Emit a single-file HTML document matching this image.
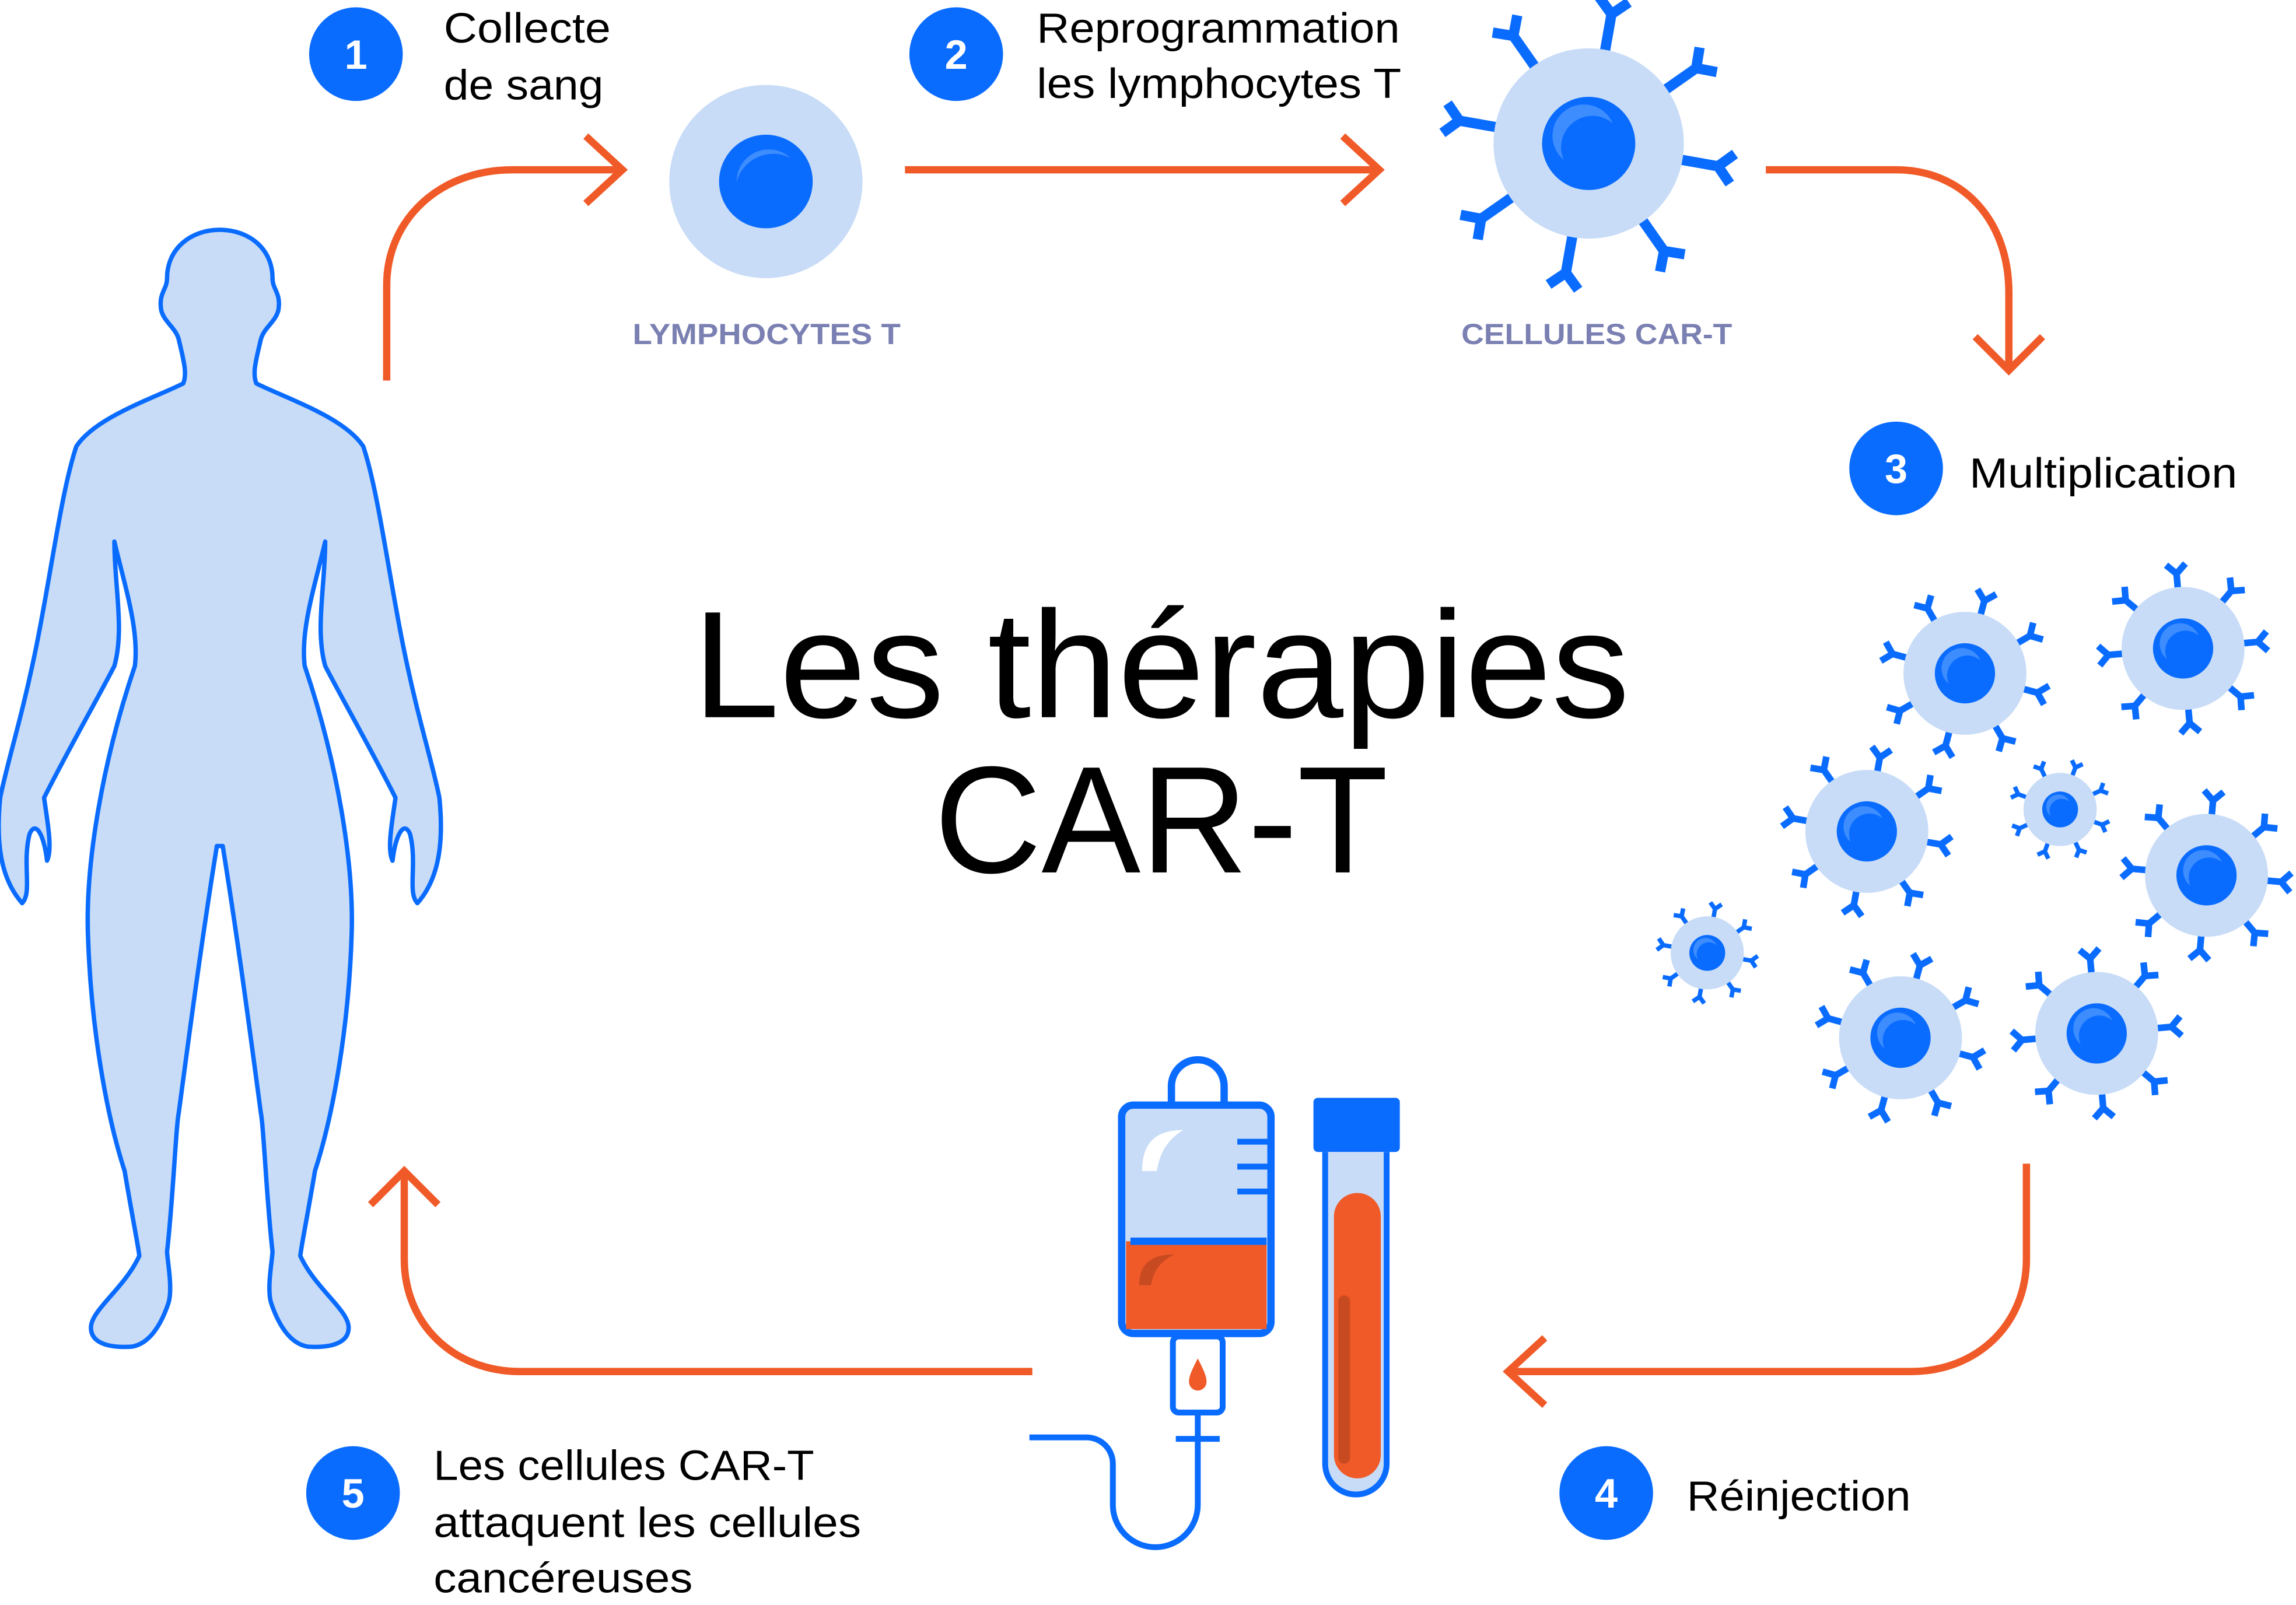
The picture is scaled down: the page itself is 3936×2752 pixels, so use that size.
<!DOCTYPE html>
<html><head><meta charset="utf-8">
<style>
html,body{margin:0;padding:0;background:#fff;}
svg{display:block;width:3936px;height:2752px;}
text{font-family:"Liberation Sans",sans-serif;}
</style></head>
<body>
<svg id="s" viewBox="0 0 1568 1096.5" xmlns="http://www.w3.org/2000/svg">
<path fill="#c8dcf7" stroke="#0a6cff" stroke-width="3" stroke-linejoin="round" d="
M150,157 C170,157 186,170 186,190 C186,198 192,200 190,212 C188,220 180,224 178,232 C175,245 172,255 175,262
C195,272 235,285 248,305 C258,335 265,390 275,440 C285,490 295,520 300,545 C303,575 300,600 285,617 C278,610 285,590 280,570 C276,560 270,570 268,588 C264,580 268,560 270,545 C255,515 235,480 222,455 C215,430 222,400 222,370
C215,400 205,430 208,455 C230,520 242,590 240,640 C238,700 228,760 215,800 C210,830 205,855 205,858 C215,880 238,895 238,907 C238,918 225,921 210,920 C198,918 190,905 185,890 C182,880 186,860 186,855 C182,820 180,770 178,760 C170,700 162,640 152,578 L148,578
C138,640 130,700 122,760 C120,770 118,820 114,855 C114,860 118,880 115,890 C110,905 102,918 90,920 C75,921 62,918 62,907 C62,895 85,880 95,858 C95,855 90,830 85,800 C72,760 62,700 60,640 C58,590 70,520 92,455 C95,430 85,400 78,370
C78,400 85,430 78,455 C65,480 45,515 30,545 C32,560 36,580 32,588 C30,570 24,560 20,570 C15,590 22,610 15,617 C0,600 -3,575 0,545 C5,520 15,490 25,440 C35,390 42,335 52,305 C65,285 105,272 125,262 C128,255 125,245 122,232 C120,224 112,220 110,212 C108,200 114,198 114,190 C114,170 130,157 150,157 Z"/>
<g fill="none" stroke="#f05a28" stroke-width="5" stroke-linecap="butt">
<path d="M264,260 V195 C264,150 300,116 350,116 H425"/>
<path d="M400,93 L425,116 L400,139"/>
<path d="M618,116 H942"/>
<path d="M917,93 L942,116 L917,139"/>
<path d="M1206,116 H1295 C1340,116 1372,150 1372,200 V253"/>
<path d="M1349,230 L1372,253 L1395,230"/>
<path d="M1384,795 V860 C1384,905 1350,937 1305,937 H1030"/>
<path d="M1055,914 L1030,937 L1055,960"/>
<path d="M705,937 H355 C310,937 276,905 276,860 V800"/>
<path d="M253,823 L276,800 L299,823"/>
</g>
<circle cx="523" cy="124" r="66" fill="#c8dcf7"/>
<circle cx="523" cy="124" r="32" fill="#0a6cff"/>
<path d="M503,124 A22,22 0 0 1 540,108 A26,26 0 0 0 503,124Z" fill="#3d8dff"/>
<g id="cells"></g>
<g fill="#0a6cff">
<circle cx="243" cy="37" r="32"/><circle cx="653" cy="37" r="32"/><circle cx="1295" cy="320" r="32"/>
<circle cx="1097" cy="1020" r="32"/><circle cx="241" cy="1020" r="32"/>
</g>
<g fill="#fff" font-weight="bold" font-size="28" text-anchor="middle">
<text x="243" y="47">1</text><text x="653" y="47">2</text><text x="1295" y="330">3</text>
<text x="1097" y="1030">4</text><text x="241" y="1030">5</text>
</g>
<g font-size="29" fill="#000" lengthAdjust="spacingAndGlyphs">
<text x="303" y="29" textLength="114" lengthAdjust="spacingAndGlyphs">Collecte</text>
<text x="303" y="68" textLength="109" lengthAdjust="spacingAndGlyphs">de sang</text>
<text x="708" y="29" textLength="248" lengthAdjust="spacingAndGlyphs">Reprogrammation</text>
<text x="708" y="67" textLength="249" lengthAdjust="spacingAndGlyphs">les lymphocytes T</text>
<text x="1345" y="333" textLength="183" lengthAdjust="spacingAndGlyphs">Multiplication</text>
<text x="1152" y="1032" textLength="153" lengthAdjust="spacingAndGlyphs">Réinjection</text>
<text x="296" y="1011" textLength="260" lengthAdjust="spacingAndGlyphs">Les cellules CAR-T</text>
<text x="296" y="1050" textLength="292" lengthAdjust="spacingAndGlyphs">attaquent les cellules</text>
<text x="296" y="1088" textLength="177" lengthAdjust="spacingAndGlyphs">cancéreuses</text>
</g>
<g font-size="20" font-weight="bold" fill="#7a80b2">
<text x="432" y="235" textLength="183" lengthAdjust="spacingAndGlyphs">LYMPHOCYTES T</text>
<text x="998" y="235" textLength="185" lengthAdjust="spacingAndGlyphs">CELLULES CAR-T</text>
</g>
<g font-size="104" fill="#000">
<text x="473" y="490" textLength="640" lengthAdjust="spacingAndGlyphs">Les thérapies</text>
<text x="638" y="596" textLength="310" lengthAdjust="spacingAndGlyphs">CAR-T</text>
</g>
<g stroke="#0a6cff" stroke-width="5" fill="none">
<path d="M800,755 V742 A18,18 0 0 1 836,742 V755"/>
<rect x="766" y="755" width="102" height="156" rx="8" fill="#c8dcf7"/>
</g>
<rect x="769" y="848" width="96" height="60" fill="#f05a28"/>
<path d="M772,848 H865" stroke="#0a6cff" stroke-width="5"/>
<path d="M780,800 C780,780 790,772 808,772 C795,780 792,790 790,800Z" fill="#fff"/>
<path d="M778,878 C778,862 788,857 802,857 C792,862 788,868 786,878Z" fill="#c84a20"/>
<g stroke="#0a6cff" stroke-width="4"><path d="M845,780 H866 M845,797 H866 M845,814 H866"/></g>
<g stroke="#0a6cff" stroke-width="4" fill="none">
<rect x="801" y="913" width="34" height="52" rx="4" fill="#fff"/>
<path d="M818,965 V1028 A28,28 0 0 1 760,1028 V1000 A18,18 0 0 0 742,982 H703"/>
<path d="M803,983 H833"/>
</g>
<path d="M818,928 C822,936 824,940 824,944 A6,6 0 0 1 812,944 C812,940 814,936 818,928Z" fill="#f05a28"/>
<rect x="897" y="750" width="59" height="37" rx="3" fill="#0a6cff"/>
<path d="M905,787 V1000 A21,21 0 0 0 947,1000 V787" fill="#c8dcf7" stroke="#0a6cff" stroke-width="4"/>
<rect x="911" y="815" width="32" height="195" rx="16" fill="#f05a28"/>
<rect x="914" y="885" width="8" height="115" rx="4" fill="#c84a20"/>
</svg>
<script>
var ns="http://www.w3.org/2000/svg",g=document.getElementById("cells");
function el(t,a){var e=document.createElementNS(ns,t);for(var k in a)e.setAttribute(k,a[k]);g.appendChild(e);return e;}
function cell(cx,cy,R,rot,f){
 f=f||1.22;
 var s=R/65, sw=Math.max(3,7*s);
 var n=8;
 for(var i=0;i<n;i++){
  var a=(rot+i*360/n)*Math.PI/180, c=Math.cos(a), sn=Math.sin(a);
  var r0=R*0.7, r1=R*f, arm=R*0.22;
  var x1=cx+c*r1,y1=cy+sn*r1;
  var d="M"+(cx+c*r0)+","+(cy+sn*r0)+" L"+x1+","+y1;
  [-0.8,0.8].forEach(function(o){var b=a+o;d+=" M"+x1+","+y1+" L"+(x1+Math.cos(b)*arm)+","+(y1+Math.sin(b)*arm);});
  el("path",{d:d,stroke:"#0a6cff","stroke-width":sw,fill:"none","stroke-linecap":"butt"});
 }
 el("circle",{cx:cx,cy:cy,r:R,fill:"#c8dcf7"});
 el("circle",{cx:cx,cy:cy,r:R*0.49,fill:"#0a6cff"});
 el("circle",{cx:cx-R*0.05,cy:cy-R*0.08,r:R*0.33,fill:"#3d8dff"});
 el("circle",{cx:cx+R*0.04,cy:cy+R*0.04,r:R*0.33,fill:"#0a6cff"});
}
cell(1085,98,65,-80,1.38);
[[1342,460,42,-75],[1491,443,42,-95],[1275,568,42,-80],[1407,553,25,-70],[1507,598,42,-85],[1166,651,25,-80],[1298,709,42,-75],[1432,706,42,-95]].forEach(function(c){cell(c[0],c[1],c[2],c[3]);});
</script>
</body></html>
